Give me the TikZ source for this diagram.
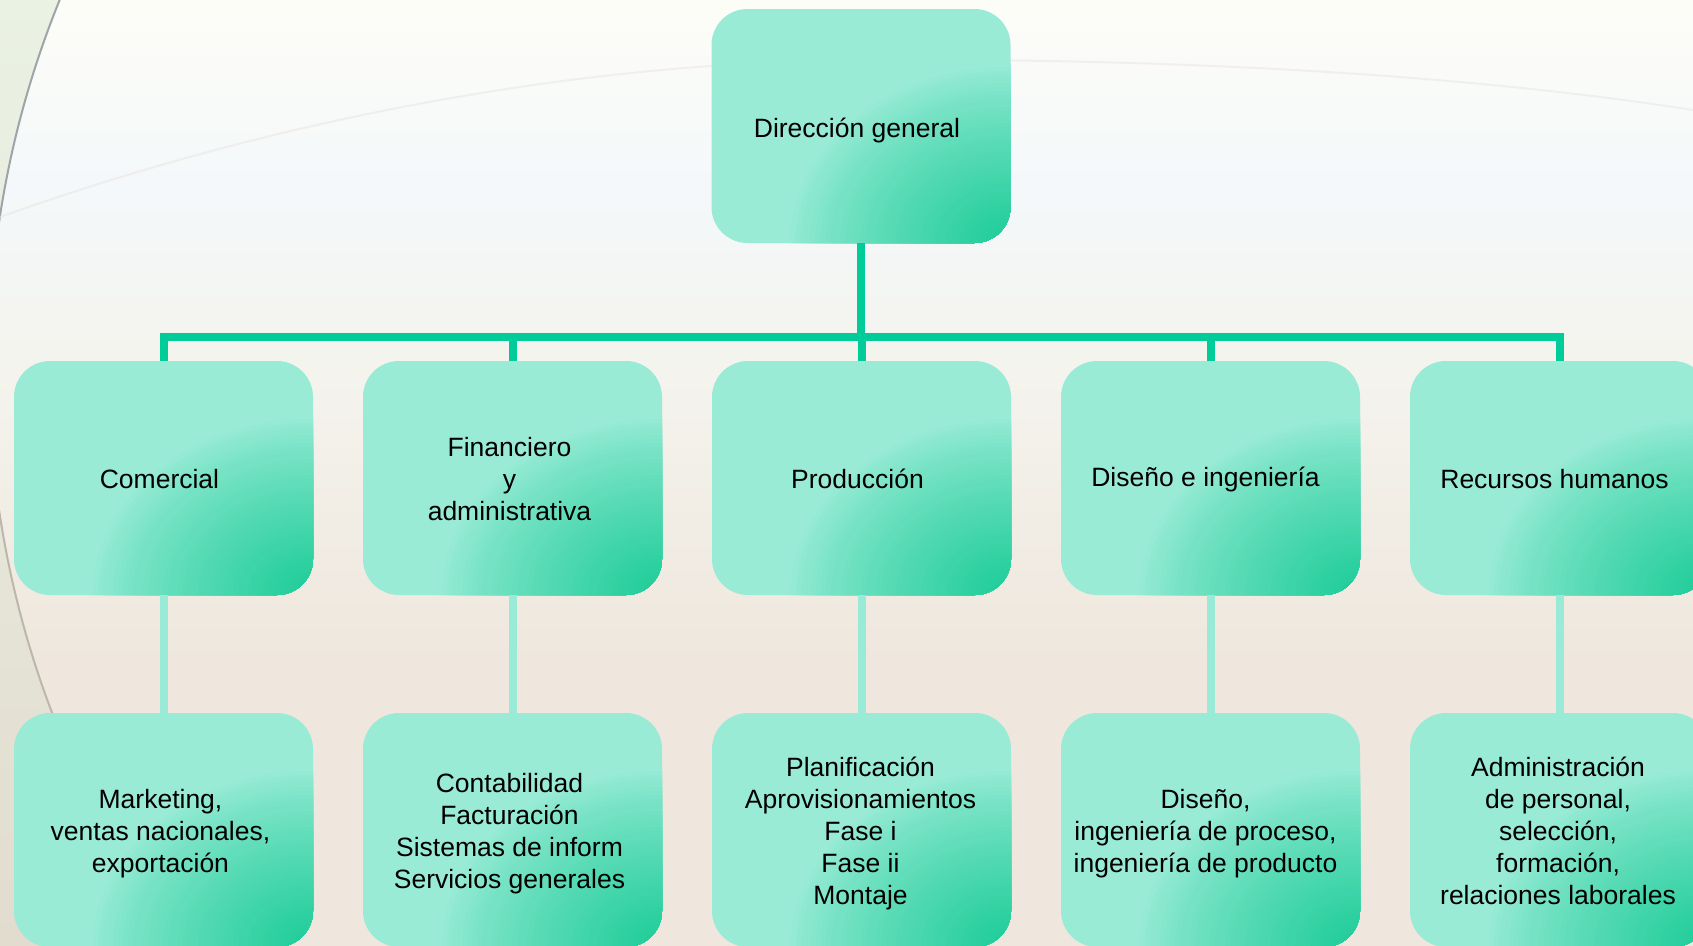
\documentclass[tikz,border=0pt]{standalone}
\usepackage{fontspec}
\setmainfont{Liberation Sans}
\definecolor{boxlight}{HTML}{99EBD6}
\definecolor{boxdark}{HTML}{1DCC98}
\definecolor{linedark}{HTML}{00CC99}
\definecolor{linelight}{HTML}{99EAD6}
\definecolor{bgtop}{HTML}{FDFDF8}
\definecolor{bgupper}{HTML}{F4F8FA}
\definecolor{bgmid}{HTML}{F4F4EE}
\definecolor{bgbot}{HTML}{EFE7DD}
\definecolor{outtop}{HTML}{EAF2E4}
\definecolor{outbot}{HTML}{E2DCCF}
\definecolor{arctop}{HTML}{9FA4A9}
\definecolor{arcbot}{HTML}{BDB6AB}
\definecolor{faintline}{HTML}{ECE7E4}
\pgfdeclareverticalshading{bgshade}{100bp}{color(0bp)=(bgbot); color(25bp)=(bgbot); color(40bp)=(bgbot); color(56bp)=(bgmid); color(65bp)=(bgupper); color(75bp)=(bgtop); color(100bp)=(bgtop)}
\tikzset{
  orgbox/.style={rounded corners=36pt, minimum width=299pt, minimum height=234pt,
    inner sep=0pt, outer sep=0pt, fill=boxlight},
  boxtext/.style={align=center, text=black, inner sep=0pt, font=\fontsize{26.5}{32}\selectfont},
  busline/.style={draw=linedark, line width=8pt},
  subline/.style={draw=linelight, line width=8pt},
  arcline/.style={line width=2pt},
}
\begin{document}
\begin{tikzpicture}[x=1pt,y=-1pt]
\useasboundingbox (0,0) rectangle (1693,945);
% background
\shade[top color=outtop, bottom color=outbot] (0,0) rectangle (1693,945);
\begin{scope}
  \clip (0,0) rectangle (1693,945);
  \clip (962,366) circle [radius=973.5pt];
  \shade[shading=bgshade] (0,0) rectangle (1693,945);
\end{scope}
\begin{scope}
  \clip (0,0) rectangle (1693,400);
  \draw[arcline, draw=arctop] (962,366) circle [radius=973.5pt];
\end{scope}
\begin{scope}
  \clip (0,400) rectangle (1693,945);
  \draw[arcline, draw=arcbot] (962,366) circle [radius=973.5pt];
\end{scope}
\draw[faintline, line width=2pt, opacity=0.6] (0,217) .. controls (300,110) and (600,62) .. (860,60) .. controls (1150,58) and (1450,72) .. (1693,110);
% boxes
\node[orgbox] (top) at (861,126) {};
\node[orgbox] (c1) at (163.5,478) {};
\node[orgbox] (c2) at (512.5,478) {};
\node[orgbox] (c3) at (861.5,478) {};
\node[orgbox] (c4) at (1210.5,478) {};
\node[orgbox] (c5) at (1559.5,478) {};
\node[orgbox] (d1) at (163.5,830) {};
\node[orgbox] (d2) at (512.5,830) {};
\node[orgbox] (d3) at (861.5,830) {};
\node[orgbox] (d4) at (1210.5,830) {};
\node[orgbox] (d5) at (1559.5,830) {};
% gradient inside boxes
\foreach \n in {top,c1,c2,c3,c4,c5,d1,d2,d3,d4,d5}{
  \begin{scope}
    \clip[rounded corners=36pt] (\n.south west) rectangle (\n.north east);
    \foreach \k in {0,...,44}{
      \pgfmathsetmacro\f{1-\k/45}
      \pgfmathtruncatemacro\p{100*(\k/44)^0.8}
      \fill[boxdark!\p!boxlight] (\n.south east) ellipse [x radius=\f*225pt, y radius=\f*180pt];
    }
  \end{scope}
}
% texts
\node[boxtext] (topt) at ([xshift=-4pt,yshift=-4.5pt]top.center) {Dirección general};
\node[boxtext] (c1t) at ([xshift=-4pt,yshift=-1pt]c1.center) {Comercial};
\node[boxtext] (c2t) at ([xshift=-3pt,yshift=-1pt]c2.center) {Financiero\\y\\administrativa};
\node[boxtext] (c3t) at ([xshift=-4pt,yshift=-1pt]c3.center) {Producción};
\node[boxtext] (c4t) at ([xshift=-5pt,yshift=-1pt]c4.center) {Diseño e ingeniería};
\node[boxtext] (c5t) at ([xshift=-5pt,yshift=-1pt]c5.center) {Recursos humanos};
\node[boxtext] (d1t) at ([xshift=-3pt,yshift=-3.5pt]d1.center) {Marketing,\\ventas nacionales,\\exportación};
\node[boxtext] (d2t) at ([xshift=-3pt,yshift=-3.5pt]d2.center) {Contabilidad\\Facturación\\Sistemas de inform\\Servicios generales};
\node[boxtext] (d3t) at ([xshift=-1pt,yshift=-3.5pt]d3.center) {Planificación\\Aprovisionamientos\\Fase i\\Fase ii\\Montaje};
\node[boxtext] (d4t) at ([xshift=-5pt,yshift=-3.5pt]d4.center) {Diseño,\\ingeniería de proceso,\\ingeniería de producto};
\node[boxtext] (d5t) at ([xshift=-1.5pt,yshift=-0.5pt]d5.center) {Administración\\de personal,\\selección,\\formación,\\relaciones laborales};
% connectors
\coordinate (bus) at (861,337);
\draw[busline] (top.south) -- (top.south |- bus);
\draw[busline] (c1.north) -- (c1.north |- bus) -- (c5.north |- bus) -- (c5.north);
\foreach \n in {c2,c3,c4} \draw[busline] (\n.north) -- (\n.north |- bus);
\foreach \i in {1,...,5} \draw[subline] (c\i.south) -- (d\i.north);
\end{tikzpicture}
\end{document}
